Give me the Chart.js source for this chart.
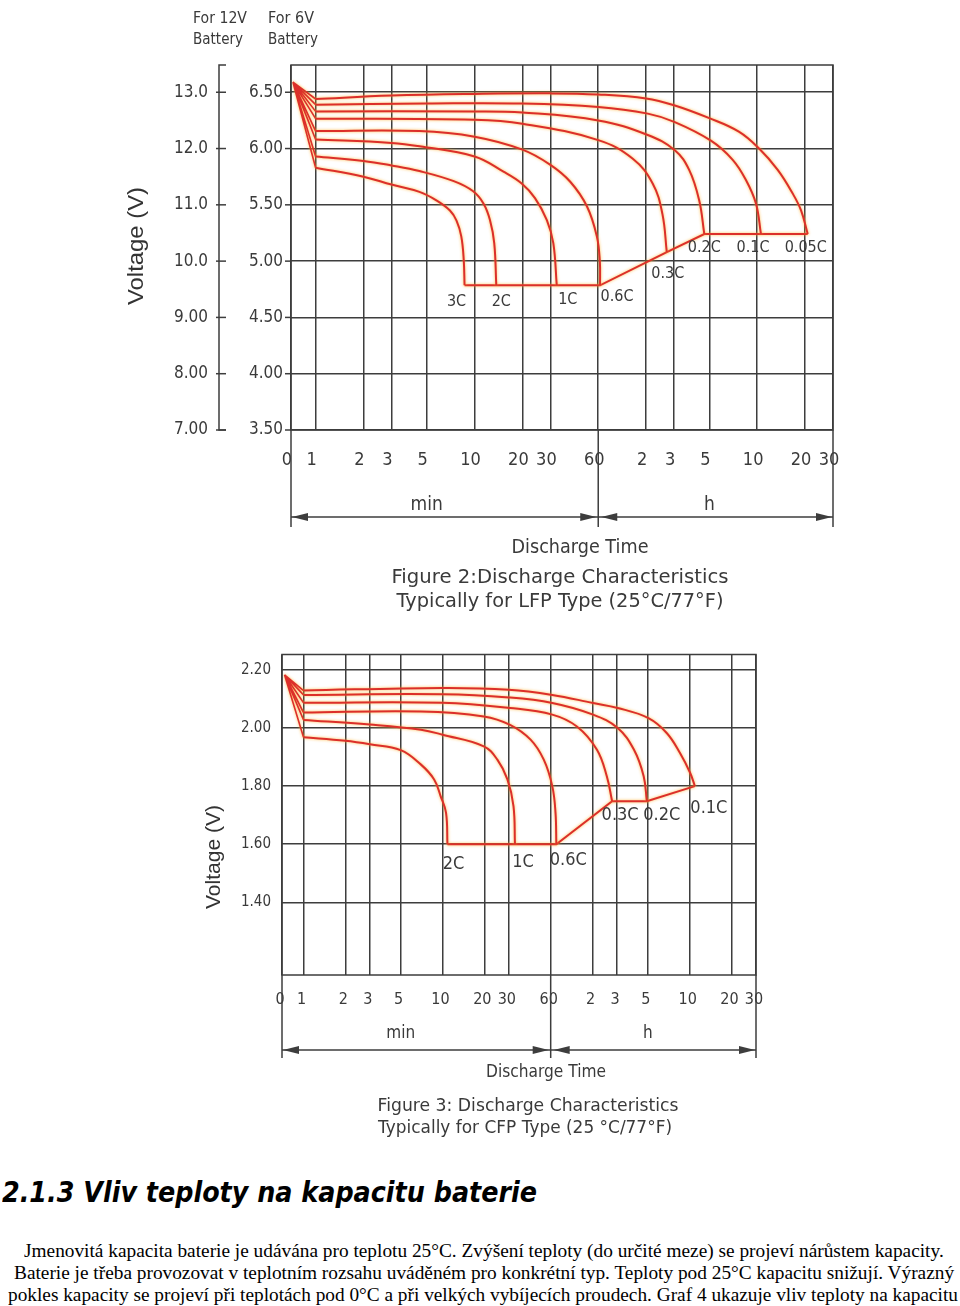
<!DOCTYPE html>
<html>
<head>
<meta charset="utf-8">
<script src="https://cdn.jsdelivr.net/npm/chart.js@4.4.1/dist/chart.umd.min.js"></script>
<style>
html, body { margin: 0; padding: 0; background: #fff; }
body { width: 960px; height: 1306px; position: relative; overflow: hidden; }
canvas { position: absolute; left: 0; }
#lfpChart { top: 0; }
#cfpChart { top: 640px; }
.txt { position: absolute; white-space: nowrap; transform-origin: 0 50%; color: #000; }
#heading { top: 1179px; font: bold italic 28px "DejaVu Sans"; line-height: 28px; }
.para { font: 18px "Liberation Serif"; line-height: 22px; }
</style>
</head>
<body>
<canvas id="lfpChart" width="960" height="620"></canvas>
<canvas id="cfpChart" width="960" height="505"></canvas>

<div id="heading" class="txt" data-left="2" data-width="535">2.1.3 Vliv teploty na kapacitu baterie</div>
<div class="txt para" style="top:1240px" data-left="24" data-width="920">Jmenovitá kapacita baterie je udávána pro teplotu 25°C. Zvýšení teploty (do určité meze) se projeví nárůstem kapacity.</div>
<div class="txt para" style="top:1262px" data-left="14" data-width="940">Baterie je třeba provozovat v teplotním rozsahu uváděném pro konkrétní typ. Teploty pod 25°C kapacitu snižují. Výrazný</div>
<div class="txt para" style="top:1284px" data-left="8" data-width="950">pokles kapacity se projeví při teplotách pod 0°C a při velkých vybíjecích proudech. Graf 4 ukazuje vliv teploty na kapacitu</div>

<script>
// time axis (minutes), shared by both figures
const xTickValues = [0.7, 1, 2, 3, 5, 10, 20, 30, 60, 120, 180, 300, 600, 1200, 1800];
const xTickLabels = ['0', '1', '2', '3', '5', '10', '20', '30', '60', '2', '3', '5', '10', '20', '30'];

// Figure 2 - LFP, values on the 6V scale (12V = 2x)
const lfpVoltTicks = [3.5, 4.0, 4.5, 5.0, 5.5, 6.0, 6.5];
const lfp6VLabels = ['3.50', '4.00', '4.50', '5.00', '5.50', '6.00', '6.50'];
const lfp12VLabels = ['7.00', '8.00', '9.00', '10.0', '11.0', '12.0', '13.0'];
const lfpRates = ['0.05C', '0.1C', '0.2C', '0.3C', '0.6C', '1C', '2C', '3C'];
const lfpStart = [0.72, 6.59];
const lfp005C = [[1, 6.44], [3, 6.47], [10, 6.485], [30, 6.49], [60, 6.48], [120, 6.445], [180, 6.385], [300, 6.27], [460, 6.15], [617, 6.0], [808, 5.81], [1004, 5.6], [1133, 5.45], [1248, 5.24]];
const lfp01C = [[1, 6.39], [5, 6.40], [20, 6.40], [60, 6.37], [123, 6.31], [182, 6.235], [307, 6.07], [421, 5.9], [510, 5.72], [590, 5.51], [634, 5.24]];
const lfp02C = [[1, 6.33], [10, 6.33], [20, 6.32], [60, 6.25], [123, 6.12], [182, 5.985], [224, 5.81], [259, 5.54], [279, 5.24]];
const lfp03C = [[1, 6.265], [10, 6.255], [20, 6.22], [60, 6.075], [99, 5.91], [132, 5.69], [152, 5.42], [162, 5.08]];
const lfp06C = [[1, 6.155], [4.5, 6.155], [10, 6.105], [20, 5.99], [30, 5.855], [40, 5.705], [51, 5.485], [58.8, 5.22], [61.4, 5.0], [61.6, 4.785]];
const lfp1C = [[1, 6.08], [3, 6.05], [4.5, 6.02], [10, 5.93], [15.2, 5.795], [19.8, 5.69], [24, 5.56], [28.5, 5.365], [31.3, 5.16], [32.9, 4.785]];
const lfp2C = [[1, 5.93], [2, 5.89], [3, 5.85], [4.5, 5.80], [7.4, 5.71], [9.8, 5.62], [11.4, 5.51], [12.5, 5.365], [13.3, 5.16], [13.7, 4.785]];
const lfp3C = [[1, 5.83], [2, 5.75], [3, 5.68], [4.5, 5.615], [5.75, 5.54], [7, 5.45], [7.7, 5.36], [8.25, 5.22], [8.55, 5.01], [8.65, 4.785]];
const lfpCurves = [lfp005C, lfp01C, lfp02C, lfp03C, lfp06C, lfp1C, lfp2C, lfp3C];

// Figure 3 - CFP, cell voltage
const cfpVoltTicks = [1.4, 1.6, 1.8, 2.0, 2.2];
const cfpVoltLabels = ['1.40', '1.60', '1.80', '2.00', '2.20'];
const cfpRates = ['0.1C', '0.2C', '0.3C', '0.6C', '1C', '2C'];
const cfpStart = [0.73, 2.183];
const cfp01C = [[1, 2.129], [10, 2.138], [30, 2.132], [61.6, 2.114], [121, 2.086], [182, 2.069], [303, 2.034], [410, 1.983], [511, 1.914], [604, 1.846], [654, 1.80]];
const cfp02C = [[1, 2.114], [10, 2.116], [30, 2.105], [61.6, 2.086], [121, 2.046], [182, 2.0], [238, 1.926], [280, 1.834], [295, 1.748]];
const cfp03C = [[1, 2.087], [10, 2.087], [30.6, 2.069], [61.6, 2.046], [92.6, 2.005], [128.8, 1.926], [152, 1.834], [166, 1.748]];
const cfp06C = [[1, 2.053], [7, 2.057], [19.8, 2.04], [30.6, 2.011], [43, 1.96], [53.5, 1.891], [61.6, 1.80], [65, 1.708], [65.9, 1.60]];
const cfp1C = [[1, 2.028], [3, 2.012], [7, 1.994], [10, 1.977], [19.8, 1.937], [24.8, 1.891], [29.3, 1.823], [32.4, 1.731], [33.2, 1.60]];
const cfp2C = [[1, 1.968], [2, 1.956], [3, 1.944], [5, 1.924], [7, 1.874], [8.7, 1.823], [9.7, 1.765], [10.6, 1.708], [10.85, 1.60]];
const cfpCurves = [cfp01C, cfp02C, cfp03C, cfp06C, cfp1C, cfp2C];

// label placement next to each curve end (pixels)
const lfpLabelOffsets = [[-2, 14], [-8, 14], [0, 14], [1, 22], [17, 12], [11, 15], [5, 17], [-8, 17]];
const cfpLabelOffsets = [[14, 22], [15, 14], [8, 14], [12, 16], [8, 18], [6, 20]];

const gridColor = '#3d3d3d';
const curveColor = '#dc2f2a';
const textColor = '#3a3a3a';

function toPts(arr) {
    return arr.map(p => ({ x: p[0], y: p[1] }));
}

function buildDatasets(start, curves) {
    const ds = curves.map(c => ({
        data: toPts(c),
        borderColor: curveColor,
        borderWidth: 2,
        pointRadius: 0,
        showLine: true,
        tension: 0.4
    }));
    // fan from the starting point to the first point of every curve
    const fan = [];
    curves.forEach(c => {
        fan.push({ x: start[0], y: start[1] }, { x: c[0][0], y: c[0][1] });
    });
    ds.push({ data: fan, borderColor: curveColor, borderWidth: 1.6, pointRadius: 0, showLine: true, tension: 0 });
    // end voltage line through the last point of every curve
    const ends = curves.map(c => c[c.length - 1]).sort((a, b) => a[0] - b[0]);
    ds.push({ data: toPts(ends), borderColor: curveColor, borderWidth: 2, pointRadius: 0, showLine: true, tension: 0 });
    return ds;
}

function scalesFor(ymin, ymax, yTicks) {
    const grid = { color: gridColor, lineWidth: 1.5, drawTicks: false };
    return {
        x: {
            type: 'logarithmic', min: 0.7, max: 1800,
            afterBuildTicks: s => { s.ticks = xTickValues.map(v => ({ value: v })); },
            afterFit: s => { s.height = 0; },
            ticks: { display: false }, grid: grid, border: { display: false }
        },
        y: {
            type: 'linear', min: ymin, max: ymax,
            afterBuildTicks: s => { s.ticks = yTicks.map(v => ({ value: v })); },
            afterFit: s => { s.width = 0; },
            ticks: { display: false }, grid: grid, border: { display: false }
        }
    };
}

function drawText(ctx, text, x, y, size, opt) {
    opt = opt || {};
    ctx.save();
    ctx.font = (opt.weight || 'normal') + ' ' + size + 'px ' + (opt.family || '"DejaVu Sans"');
    ctx.fillStyle = opt.color || textColor;
    ctx.textBaseline = 'middle';
    ctx.textAlign = 'left';
    const w = ctx.measureText(text).width;
    const sx = opt.width ? opt.width / w : (opt.sx || 0.9);
    const dw = w * sx;
    ctx.translate(x, y);
    if (opt.rotate) ctx.rotate(opt.rotate);
    const left = opt.align === 'right' ? -dw : (opt.align === 'left' ? 0 : -dw / 2);
    ctx.translate(left, 0);
    ctx.scale(sx, 1);
    ctx.fillText(text, 0, 0);
    ctx.restore();
}

function arrowHead(ctx, tipX, y, dir) {
    ctx.beginPath();
    ctx.moveTo(tipX, y);
    ctx.lineTo(tipX - dir * 16, y - 4);
    ctx.lineTo(tipX - dir * 16, y + 4);
    ctx.closePath();
    ctx.fill();
}

function decorPlugin(cfg) {
    return {
        id: 'decor',
        beforeDatasetDraw(chart) {
            const c = chart.ctx;
            c.save();
            c.shadowColor = 'rgba(255,175,40,0.85)';
            c.shadowBlur = 3;
        },
        afterDatasetDraw(chart) {
            chart.ctx.restore();
        },
        afterDraw(chart) {
            const ctx = chart.ctx;
            const a = chart.chartArea;
            const xs = chart.scales.x, ys = chart.scales.y;
            ctx.save();
            ctx.strokeStyle = gridColor;
            ctx.fillStyle = gridColor;
            ctx.lineWidth = 1.5;
            ctx.strokeRect(a.left, a.top, a.right - a.left, a.bottom - a.top);

            // voltage labels
            cfg.yTicks.forEach((v, i) => {
                const py = ys.getPixelForValue(v);
                drawText(ctx, cfg.yLabels[i], cfg.yLabelRight, py, cfg.yFont, { align: 'right' });
                if (cfg.yTickMark) {
                    ctx.beginPath();
                    ctx.moveTo(a.left - cfg.yTickMark, py);
                    ctx.lineTo(a.left, py);
                    ctx.stroke();
                }
                if (cfg.second) {
                    drawText(ctx, cfg.second.labels[i], cfg.second.right, py, cfg.yFont, { align: 'right' });
                    ctx.beginPath();
                    ctx.moveTo(cfg.second.lineX - 3, py);
                    ctx.lineTo(cfg.second.lineX + 7, py);
                    ctx.stroke();
                }
            });
            if (cfg.second) {
                const lx = cfg.second.lineX;
                ctx.beginPath();
                ctx.moveTo(lx + 7, a.top);
                ctx.lineTo(lx, a.top);
                ctx.lineTo(lx, a.bottom);
                ctx.lineTo(lx + 7, a.bottom);
                ctx.stroke();
            }

            // time labels
            xTickValues.forEach((v, i) => {
                const px = xs.getPixelForValue(v) + cfg.xShift;
                drawText(ctx, xTickLabels[i], px, cfg.xLabelY, cfg.xFont);
            });

            // min / h brackets
            const p0 = xs.getPixelForValue(xTickValues[0]);
            const p60 = xs.getPixelForValue(60);
            const pEnd = xs.getPixelForValue(xTickValues[xTickValues.length - 1]);
            [p0, p60, pEnd].forEach(px => {
                ctx.beginPath();
                ctx.moveTo(px, a.bottom);
                ctx.lineTo(px, cfg.extBottom);
                ctx.stroke();
            });
            ctx.lineWidth = 1.3;
            ctx.beginPath();
            ctx.moveTo(p0, cfg.arrowY);
            ctx.lineTo(pEnd, cfg.arrowY);
            ctx.stroke();
            arrowHead(ctx, p0 + 1, cfg.arrowY, -1);
            arrowHead(ctx, p60 - 2, cfg.arrowY, 1);
            arrowHead(ctx, p60 + 3, cfg.arrowY, -1);
            arrowHead(ctx, pEnd - 1, cfg.arrowY, 1);
            drawText(ctx, 'min', xs.getPixelForValue(5), cfg.unitY, cfg.unitFont);
            drawText(ctx, 'h', xs.getPixelForValue(300), cfg.unitY, cfg.unitFont);

            // rate labels at the end of every curve
            cfg.curves.forEach((c, i) => {
                const end = c[c.length - 1];
                const off = cfg.labelOffsets[i];
                drawText(ctx, cfg.rates[i], xs.getPixelForValue(end[0]) + off[0], ys.getPixelForValue(end[1]) + off[1], cfg.rateFont);
            });

            cfg.texts.forEach(t => drawText(ctx, t.t, t.x, t.y, t.size, { width: t.w }));
            const yt = cfg.yTitle;
            drawText(ctx, yt.t, yt.x, yt.y, yt.size, { width: yt.w, rotate: -Math.PI / 2, family: '"Liberation Sans"', color: '#333' });
            ctx.restore();
        }
    };
}

function makeChart(id, datasets, scales, padding, cfg) {
    return new Chart(document.getElementById(id), {
        type: 'scatter',
        data: { datasets: datasets },
        options: {
            responsive: false,
            animation: false,
            events: [],
            layout: { padding: padding },
            scales: scales,
            plugins: { legend: { display: false }, tooltip: { enabled: false } }
        },
        plugins: [decorPlugin(cfg)]
    });
}

// Figure 2
makeChart('lfpChart', buildDatasets(lfpStart, lfpCurves), scalesFor(3.5, 6.742, lfpVoltTicks),
    { left: 291, top: 65, right: 127, bottom: 190 },
    {
        yTicks: lfpVoltTicks, yLabels: lfp6VLabels, yLabelRight: 283, yFont: 17, yTickMark: 6,
        second: { labels: lfp12VLabels, right: 208, lineX: 219 },
        xLabelY: 460, xFont: 18, xShift: -4,
        extBottom: 527, arrowY: 517, unitY: 505, unitFont: 19,
        curves: lfpCurves, rates: lfpRates, labelOffsets: lfpLabelOffsets, rateFont: 16,
        texts: [
            { t: 'Discharge Time', x: 580, y: 548, size: 19, w: 137 },
            { t: 'Figure 2:Discharge Characteristics', x: 560, y: 578, size: 20, w: 337 },
            { t: 'Typically for LFP Type (25°C/77°F)', x: 560, y: 602, size: 20, w: 327 },
            { t: 'For 12V', x: 220, y: 19, size: 15, w: 54 },
            { t: 'Battery', x: 218, y: 40, size: 15, w: 50 },
            { t: 'For 6V', x: 291, y: 19, size: 15, w: 46 },
            { t: 'Battery', x: 293, y: 40, size: 15, w: 50 }
        ],
        yTitle: { t: 'Voltage (V)', x: 137, y: 246, size: 22, w: 118 }
    });

// Figure 3 (canvas starts at y = 640)
makeChart('cfpChart', buildDatasets(cfpStart, cfpCurves), scalesFor(1.15, 2.253, cfpVoltTicks),
    { left: 282, top: 14.5, right: 204, bottom: 170 },
    {
        yTicks: cfpVoltTicks, yLabels: cfpVoltLabels, yLabelRight: 271, yFont: 15, yTickMark: 0,
        second: null,
        xLabelY: 360, xFont: 16, xShift: -2,
        extBottom: 418, arrowY: 410, unitY: 394, unitFont: 17,
        curves: cfpCurves, rates: cfpRates, labelOffsets: cfpLabelOffsets, rateFont: 18,
        texts: [
            { t: 'Discharge Time', x: 546, y: 433, size: 17, w: 120 },
            { t: 'Figure 3: Discharge Characteristics', x: 528, y: 466, size: 18, w: 301 },
            { t: 'Typically for CFP Type (25 °C/77°F)', x: 525, y: 488, size: 18, w: 294 }
        ],
        yTitle: { t: 'Voltage (V)', x: 214, y: 217, size: 20, w: 104 }
    });

// squeeze the page text to the widths of the scan
document.querySelectorAll('.txt').forEach(el => {
    const natural = el.offsetWidth;
    const target = parseFloat(el.dataset.width);
    el.style.left = el.dataset.left + 'px';
    el.style.transform = 'scaleX(' + (target / natural) + ')';
});
</script>
</body>
</html>
